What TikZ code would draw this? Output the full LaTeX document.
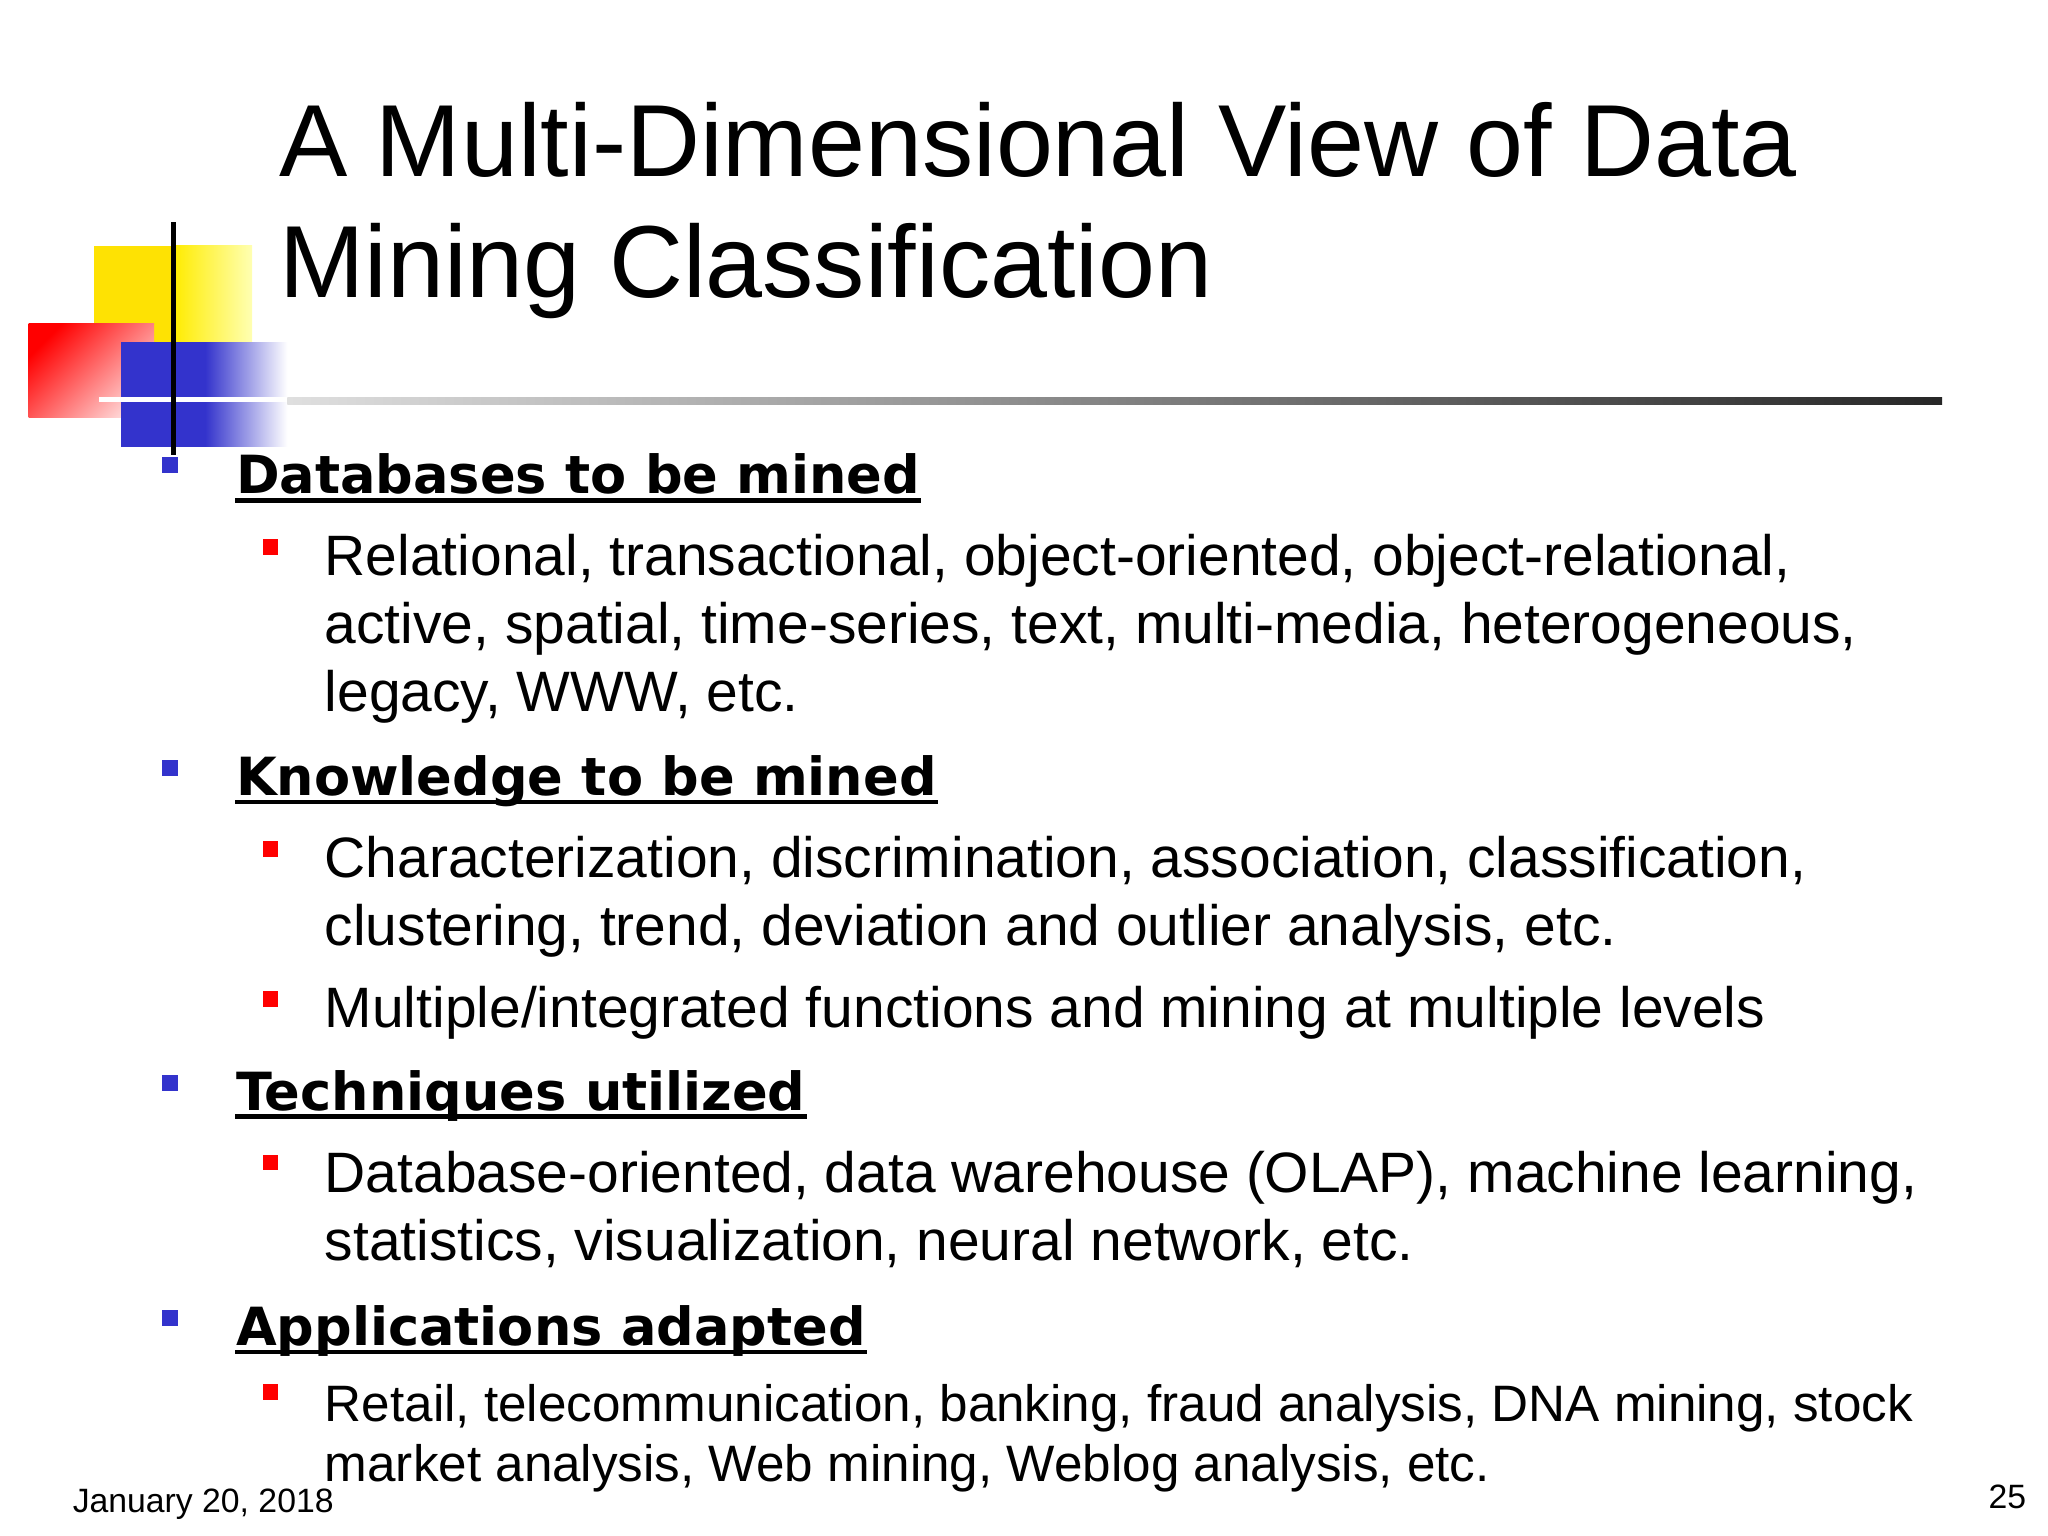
\documentclass[tikz,border=0pt]{standalone}
\usepackage{fontspec}
\setmainfont{Liberation Sans}
\newfontfamily\headfont{DejaVu Sans}
\usetikzlibrary{shadings}
\begin{document}
\begin{tikzpicture}[x=0.01cm,y=-0.01cm,
  body/.style={anchor=base west,inner sep=0,font=\fontsize{12.4pt}{14.8pt}\selectfont},
  head/.style={anchor=base west,inner sep=0,font=\headfont\bfseries\fontsize{11.45pt}{13pt}\selectfont},
  uline/.style={line width=1pt},
  ttl/.style={anchor=base west,inner sep=0,font=\fontsize{22.3pt}{27pt}\selectfont},
  bb/.style={fill={rgb,255:red,51;green,51;blue,204}},
  rb/.style={fill=red}]
\useasboundingbox (0,0) rectangle (1568,1176);
\fill[white] (0,0) rectangle (1568,1176);
% logo
\fill[yellow!85!orange] (72,188) rectangle (133,262);
\shade[left color=yellow!85!orange,right color=yellow!30] (133,188) rectangle (193,262);
\shade[left color=red,right color=red!15,shading angle=45] (22,248) rectangle (118,320);
\fill[bb] (93,262) rectangle (157,342);
\shade[left color={rgb,255:red,51;green,51;blue,204},right color=white] (157,262) rectangle (220,342);
\draw[white,line width=1pt] (76,306) -- (220,306);
\draw[line width=1.2pt] (133,170) -- (133,348);
\shade[left color=gray!25,right color=black!85] (220,304.5) rectangle (1487,309.5);
% title
\node[ttl] (t1) at (213,135) {A Multi-Dimensional View of Data};
\node[ttl] (t2) at (213,228) {Mining Classification};
% bullets
\foreach \y in {362,594,835,1015} \fill[bb] (124,\y-12) rectangle (136,\y);
\foreach \y in {428,659,774,899,1075} \fill[rb] (201,\y-15) rectangle (213,\y-3);
\node[head] (h1) at (180,378) {Databases to be mined};
\node[head] (h2) at (180,609) {Knowledge to be mined};
\node[head] (h3) at (180,850) {Techniques utilized};
\node[head] (h4) at (180,1030) {Applications adapted};
\foreach \n/\y in {h1/383,h2/614,h3/855,h4/1035} \draw[uline] (\n.west|-0,\y) -- (\n.east|-0,\y);
\node[body] (b1a) at (248,441) {Relational, transactional, object-oriented, object-relational,};
\node[body] (b1b) at (248,493) {active, spatial, time-series, text, multi-media, heterogeneous,};
\node[body] (b1c) at (248,545) {legacy, WWW, etc.};
\node[body] (b2a) at (248,672) {Characterization, discrimination, association, classification,};
\node[body] (b2b) at (248,724) {clustering, trend, deviation and outlier analysis, etc.};
\node[body] (b3) at (248,787) {Multiple/integrated functions and mining at multiple levels};
\node[body] (b4a) at (248,913) {Database-oriented, data warehouse (OLAP), machine learning,};
\node[body] (b4b) at (248,965) {statistics, visualization, neural network, etc.};
\node[body,font=\fontsize{11.15pt}{13.5pt}\selectfont] (b5a) at (248,1088) {Retail, telecommunication, banking, fraud analysis, DNA mining, stock};
\node[body,font=\fontsize{11.15pt}{13.5pt}\selectfont] (b5b) at (248,1134) {market analysis, Web mining, Weblog analysis, etc.};
\node[anchor=base west,inner sep=0,font=\fontsize{7.35pt}{8pt}\selectfont] (date) at (55,1158) {January 20, 2018};
\node[anchor=base east,inner sep=0,font=\fontsize{7.35pt}{8pt}\selectfont] (pg) at (1552,1155) {25};
\end{tikzpicture}
\end{document}
